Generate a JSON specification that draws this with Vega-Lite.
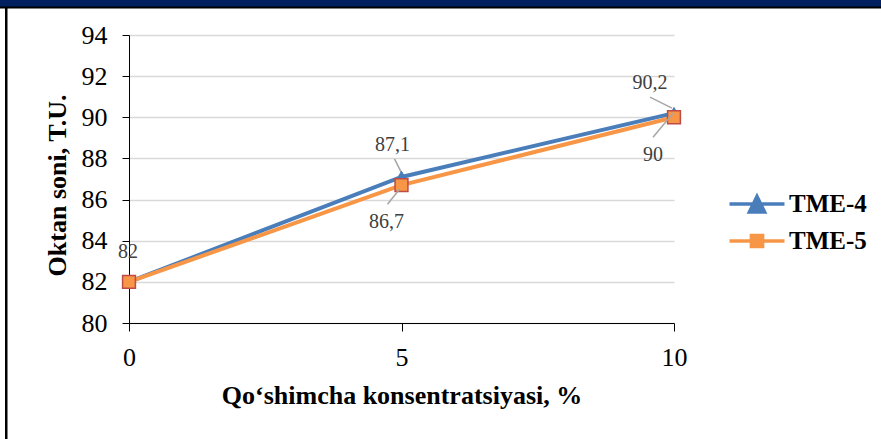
{
  "$schema": "https://vega.github.io/schema/vega-lite/v6.json",
  "width": 545,
  "height": 288,
  "autosize": {"type": "none"},
  "padding": {"left": 129, "top": 35, "right": 207, "bottom": 116},
  "background": "white",
  "config": {
    "font": "Liberation Serif",
    "view": {"stroke": null},
    "locale": {"number": {"decimal": ",", "thousands": " ", "grouping": [3], "currency": ["", ""]}}
  },
  "data": {
    "values": [
      {"c": 0, "series": "TME-4", "v": 82},
      {"c": 5, "series": "TME-4", "v": 87.1},
      {"c": 10, "series": "TME-4", "v": 90.2},
      {"c": 0, "series": "TME-5", "v": 82},
      {"c": 5, "series": "TME-5", "v": 86.7},
      {"c": 10, "series": "TME-5", "v": 90}
    ]
  },
  "encoding": {
    "x": {
      "field": "c", "type": "quantitative",
      "scale": {"domain": [0, 10], "nice": false},
      "axis": {
        "values": [0, 5, 10], "grid": false,
        "title": "Qo‘shimcha konsentratsiyasi, %",
        "titleFontSize": 26, "titleFontWeight": "bold", "titleColor": "black",
        "titleBaseline": "alphabetic", "titleY": 80, "titleX": 272.5,
        "labelFontSize": 26, "labelColor": "black", "labelPadding": 13,
        "labelFlush": false, "tickSize": 8, "tickColor": "black", "domainColor": "black"
      }
    },
    "y": {
      "field": "v", "type": "quantitative",
      "scale": {"domain": [80, 94], "nice": false, "zero": false},
      "axis": {
        "values": [80, 82, 84, 86, 88, 90, 92, 94],
        "grid": true, "gridColor": "#d9d9d9", "gridWidth": 1.5,
        "title": "Oktan soni, T.U.",
        "titleFontSize": 26, "titleFontWeight": "bold", "titleColor": "black",
        "titleBaseline": "alphabetic", "titleAngle": 270, "titleX": -64, "titleY": 150,
        "labelFontSize": 26, "labelColor": "black", "labelPadding": 15,
        "labelFlush": false, "tickSize": 7, "tickColor": "black", "domainColor": "black"
      }
    }
  },
  "layer": [
    {
      "data": {"values": [{"part": "top"}]},
      "mark": {"type": "rect", "color": "#002060"},
      "encoding": {"x": {"value": -129}, "x2": {"value": 752}, "y": {"value": -35}, "y2": {"value": -28}}
    },
    {
      "data": {"values": [{"part": "edge"}]},
      "mark": {"type": "rect", "color": "black"},
      "encoding": {"x": {"value": -124}, "x2": {"value": -121.5}, "y": {"value": -28}, "y2": {"value": 404}}
    },
    {
      "data": {"values": [{"part": "topline"}]},
      "mark": {"type": "rect", "color": "black"},
      "encoding": {"x": {"value": -129}, "x2": {"value": 752}, "y": {"value": -28.5}, "y2": {"value": -26.5}}
    },
    {
      "mark": {"type": "line", "strokeWidth": 4},
      "encoding": {
        "color": {"field": "series", "type": "nominal",
          "scale": {"range": ["#4a7ebb", "#f79646"]},
          "legend": null}
      }
    },
    {
      "transform": [{"filter": "datum.series === 'TME-4' && datum.c === 5"}],
      "mark": {"type": "rule", "color": "#a6a6a6", "strokeWidth": 1.5, "xOffset": -7, "yOffset": -18, "x2Offset": 0, "y2Offset": -4},
      "encoding": {"x2": {"field": "c"}, "y2": {"field": "v"}}
    },
    {
      "transform": [{"filter": "datum.series === 'TME-4' && datum.c === 10"}],
      "mark": {"type": "rule", "color": "#a6a6a6", "strokeWidth": 1.5, "xOffset": -24, "yOffset": -16, "x2Offset": -2, "y2Offset": -5},
      "encoding": {"x2": {"field": "c"}, "y2": {"field": "v"}}
    },
    {
      "transform": [{"filter": "datum.series === 'TME-4'"}],
      "mark": {"type": "point", "shape": "triangle-up", "filled": true, "opacity": 1, "fill": "#4a7ebb", "stroke": "#4a7ebb", "strokeWidth": 1, "size": 175},
      "encoding": {}
    },
    {
      "transform": [{"filter": "datum.series === 'TME-5'"}],
      "mark": {"type": "point", "shape": "square", "filled": true, "opacity": 1, "fill": "#f79646", "stroke": "#be4b48", "strokeWidth": 1.5, "size": 165},
      "encoding": {}
    },
    {
      "transform": [{"filter": "datum.series === 'TME-5' && datum.c === 5"}],
      "mark": {"type": "rule", "color": "#a6a6a6", "strokeWidth": 1.5, "xOffset": -14, "yOffset": 19, "x2Offset": -2, "y2Offset": 4},
      "encoding": {"x2": {"field": "c"}, "y2": {"field": "v"}}
    },
    {
      "transform": [{"filter": "datum.series === 'TME-5' && datum.c === 10"}],
      "mark": {"type": "rule", "color": "#a6a6a6", "strokeWidth": 1.5, "xOffset": -21, "yOffset": 20, "x2Offset": -1, "y2Offset": -4},
      "encoding": {"x2": {"field": "c"}, "y2": {"field": "v"}}
    },
    {
      "transform": [{"filter": "datum.series === 'TME-4' && datum.c === 0"}],
      "mark": {"type": "text", "fontSize": 20, "color": "#404040", "dx": -1, "dy": -30},
      "encoding": {"text": {"field": "v", "type": "quantitative", "format": ".1~f"}}
    },
    {
      "transform": [{"filter": "datum.series === 'TME-4' && datum.c === 5"}],
      "mark": {"type": "text", "fontSize": 20, "color": "#404040", "dx": -9, "dy": -32},
      "encoding": {"text": {"field": "v", "type": "quantitative", "format": ".1~f"}}
    },
    {
      "transform": [{"filter": "datum.series === 'TME-4' && datum.c === 10"}],
      "mark": {"type": "text", "fontSize": 20, "color": "#404040", "dx": -24, "dy": -30},
      "encoding": {"text": {"field": "v", "type": "quantitative", "format": ".1~f"}}
    },
    {
      "transform": [{"filter": "datum.series === 'TME-5' && datum.c === 5"}],
      "mark": {"type": "text", "fontSize": 20, "color": "#404040", "dx": -15, "dy": 37},
      "encoding": {"text": {"field": "v", "type": "quantitative", "format": ".1~f"}}
    },
    {
      "transform": [{"filter": "datum.series === 'TME-5' && datum.c === 10"}],
      "mark": {"type": "text", "fontSize": 20, "color": "#404040", "dx": -21, "dy": 38},
      "encoding": {"text": {"field": "v", "type": "quantitative", "format": ".1~f"}}
    },
    {
      "transform": [{"filter": "false"}],
      "mark": {"type": "point", "filled": true, "opacity": 1, "strokeWidth": 3.5},
      "encoding": {
        "fill": {"field": "series", "type": "nominal",
          "scale": {"domain": ["TME-4", "TME-5"], "range": ["#4a7ebb", "#f79646"]},
          "legend": {
            "title": null, "orient": "none", "legendX": 606, "legendY": 147,
            "padding": 0, "rowPadding": -8, "labelOffset": 10, "symbolSize": 1600,
            "symbolStrokeWidth": 3.5,
            "labelFont": "Liberation Serif", "labelFontSize": 25, "labelFontWeight": "bold", "labelColor": "black"
          }},
        "stroke": {"field": "series", "type": "nominal",
          "scale": {"domain": ["TME-4", "TME-5"], "range": ["#4a7ebb", "#f79646"]}},
        "shape": {"field": "series", "type": "nominal",
          "scale": {"domain": ["TME-4", "TME-5"], "range": ["M-1.375,0H1.375M0,-0.38L0.38,0.4L-0.38,0.4Z", "M-1.375,0H1.375M-0.28,-0.28H0.28V0.28H-0.28Z"]}}
      }
    }
  ]
}
